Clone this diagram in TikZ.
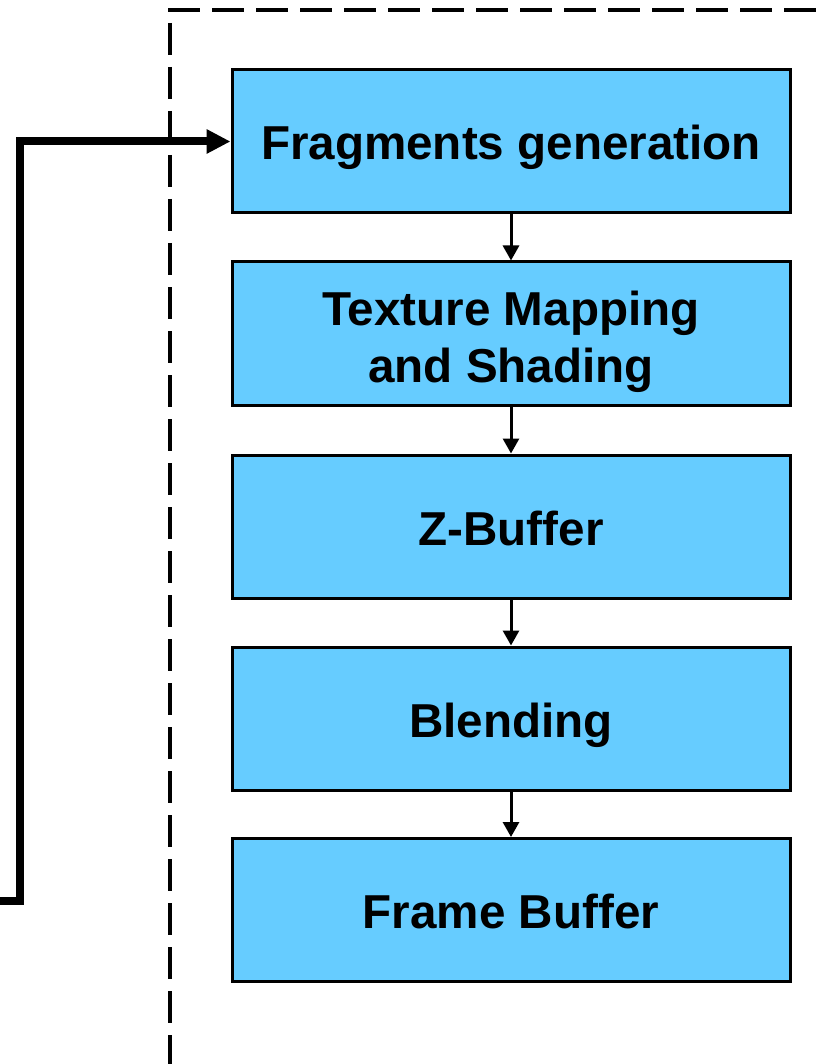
\documentclass[tikz,border=0pt]{standalone}
\usepackage{fontspec}
\setmainfont{Liberation Sans}
\usetikzlibrary{arrows.meta}
\definecolor{boxblue}{HTML}{66CCFF}
\begin{document}
\begin{tikzpicture}[x=1pt,y=-1pt,
  stagebox/.style={draw=black, line width=3pt, fill=boxblue, minimum width=558pt, minimum height=143pt, inner sep=0pt, align=center, text height=37pt, text depth=0pt, font=\fontsize{47.6}{57}\selectfont\bfseries},
  flow/.style={line width=3pt, -{Triangle[length=15pt, width=16pt]}},
  feedback/.style={line width=8pt, -{Triangle[length=24pt, width=23pt]}},
  frame/.style={line width=4pt, dash pattern=on 32pt off 12pt}]
\useasboundingbox (0,0) rectangle (821,1064);
\draw[frame] (168,10) -- (830,10);
\draw[frame, dash phase=31pt] (170,10) -- (170,1070);
\node[stagebox] (f1) at (511,141.5) {Fragments generation};
\node[stagebox, text height=97pt, text depth=0pt] (f2) at (511,333.5) {Texture Mapping\\and Shading};
\node[stagebox] (f3) at (511,526.5) {Z-Buffer};
\node[stagebox] (f4) at (511,718.5) {Blending};
\node[stagebox] (f5) at (511,910) {Frame Buffer};
\draw[flow] (f1) -- (f2);
\draw[flow] (f2) -- (f3);
\draw[flow] (f3) -- (f4);
\draw[flow] (f4) -- (f5);
\coordinate (fb) at (-2,901);
\draw[feedback] (fb) -- (20,901) |- (f1.west);
\end{tikzpicture}
\end{document}
